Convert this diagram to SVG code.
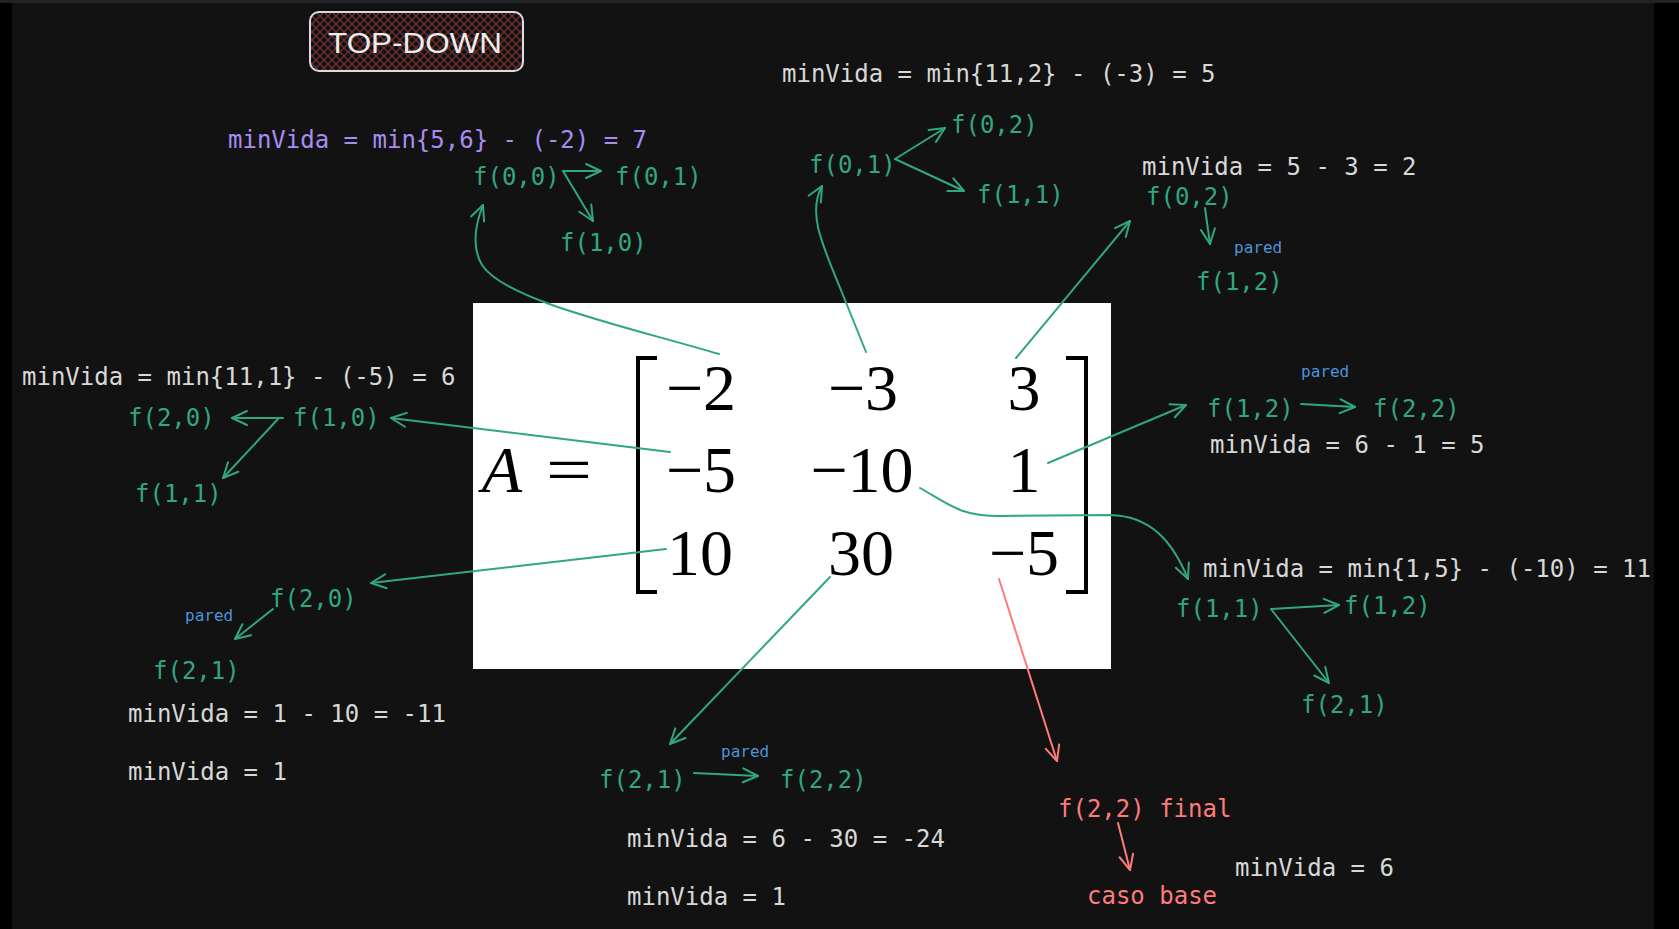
<svg xmlns="http://www.w3.org/2000/svg" width="1679" height="929" viewBox="0 0 1679 929">
<defs>
<style>
.t{font-family:"DejaVu Sans Mono","Liberation Mono",monospace;font-size:24px}
.g{fill:#31a77f}
.w{fill:#d8d8d8}
.p{fill:#a98cf2}
.r{fill:#ff7b7b}
.b{fill:#4d93dc;font-family:"DejaVu Sans Mono","Liberation Mono",monospace;font-size:16px}
.m{font-family:"Liberation Serif","DejaVu Serif",serif;font-size:66px;fill:#000;text-anchor:middle}
.cg{fill:none;stroke:#31a77f;stroke-width:2;stroke-linecap:round;marker-end:url(#ag)}
.cr{fill:none;stroke:#ff7b7b;stroke-width:2;stroke-linecap:round;marker-end:url(#ar)}
</style>
<marker id="ag" markerUnits="userSpaceOnUse" markerWidth="30" markerHeight="30" refX="0" refY="0" viewBox="-20 -15 30 30" orient="auto">
<path d="M-15,-7 L0,0 L-15,7" fill="none" stroke="#31a77f" stroke-width="2" stroke-linecap="round" stroke-linejoin="round"/>
</marker>
<marker id="ar" markerUnits="userSpaceOnUse" markerWidth="30" markerHeight="30" refX="0" refY="0" viewBox="-20 -15 30 30" orient="auto">
<path d="M-15,-7 L0,0 L-15,7" fill="none" stroke="#ff7b7b" stroke-width="2" stroke-linecap="round" stroke-linejoin="round"/>
</marker>
<pattern id="hatch" patternUnits="userSpaceOnUse" width="8" height="8">
<path d="M0,0 L8,8 M8,0 L0,8" stroke="#6e2f2f" stroke-width="1.3"/>
</pattern>
</defs>

<rect x="0" y="0" width="1679" height="929" fill="#000"/>
<rect x="12" y="3" width="1642" height="926" fill="#121212"/>
<rect x="0" y="0" width="1679" height="3" fill="#232323"/>

<g id="title">
<rect x="310" y="12" width="213" height="59" rx="9" fill="#121212"/>
<rect x="310" y="12" width="213" height="59" rx="9" fill="url(#hatch)" stroke="#dcdcdc" stroke-width="2"/>
<text x="328" y="53" font-family="'Liberation Sans',sans-serif" font-size="29" fill="#ececec" textLength="174" lengthAdjust="spacingAndGlyphs">TOP-DOWN</text>
</g>

<g id="matrix">
<rect x="473" y="303" width="638" height="366" fill="#fff"/>
<text x="502" y="492" class="m" font-style="italic">A</text>
<text x="546" y="492" class="m" style="text-anchor:start" textLength="46" lengthAdjust="spacingAndGlyphs">=</text>
<path d="M657,358 H638 V592 H657 M1066,358 H1086 V592 H1066" fill="none" stroke="#000" stroke-width="4"/>
<text x="701" y="410" class="m">−2</text>
<text x="863" y="410" class="m">−3</text>
<text x="1024" y="410" class="m">3</text>
<text x="701" y="492" class="m">−5</text>
<text x="862" y="492" class="m">−10</text>
<text x="1024" y="492" class="m">1</text>
<text x="700" y="575" class="m">10</text>
<text x="861" y="575" class="m">30</text>
<text x="1024" y="575" class="m">−5</text>
</g>

<g id="connectors">
<path class="cg" d="M719,354 C620,325 505,300 482,265 C472,248 474,228 483,205"/>
<path class="cg" d="M866,352 L845,300 C825,250 806,215 822,186"/>
<path class="cg" d="M1016,358 L1130,221"/>
<path class="cg" d="M670,452 L391,418"/>
<path class="cg" d="M1048,463 L1186,405" stroke-width="2.5"/>
<path class="cg" d="M920,488 C950,505 960,516 1000,516 L1110,515 C1150,516 1172,540 1188,579"/>
<path class="cg" d="M666,549 L371,583"/>
<path class="cg" d="M830,577 L670,744"/>
<path class="cr" d="M999,579 L1057,761"/>

<path class="cg" d="M563,171 L601,171"/>
<path class="cg" d="M563,171 L593,221"/>
<path class="cg" d="M895,159 L945,128"/>
<path class="cg" d="M895,159 L964,191"/>
<path class="cg" d="M1205,208 L1210,244"/>
<path class="cg" d="M283,418 L232,418"/>
<path class="cg" d="M278,419 L223,478"/>
<path class="cg" d="M1301,404 L1355,407"/>
<path class="cg" d="M1271,609 L1339,605"/>
<path class="cg" d="M1271,609 L1329,683"/>
<path class="cg" d="M273,609 L235,639"/>
<path class="cg" d="M694,773 L758,776"/>
<path class="cr" d="M1118,823 L1130,870"/>
</g>

<g id="n00">
<text x="228" y="148" class="t p">minVida = min{5,6} - (-2) = 7</text>
<text x="473" y="185" class="t g">f(0,0)</text>
<text x="615" y="185" class="t g">f(0,1)</text>
<text x="560" y="251" class="t g">f(1,0)</text>
</g>

<g id="n01">
<text x="782" y="82" class="t w">minVida = min{11,2} - (-3) = 5</text>
<text x="809" y="173" class="t g">f(0,1)</text>
<text x="951" y="133" class="t g">f(0,2)</text>
<text x="977" y="203" class="t g">f(1,1)</text>
</g>

<g id="n02">
<text x="1142" y="175" class="t w">minVida = 5 - 3 = 2</text>
<text x="1146" y="205" class="t g">f(0,2)</text>
<text x="1234" y="253" class="b">pared</text>
<text x="1196" y="290" class="t g">f(1,2)</text>
</g>

<g id="n10">
<text x="22" y="385" class="t w">minVida = min{11,1} - (-5) = 6</text>
<text x="128" y="426" class="t g">f(2,0)</text>
<text x="293" y="426" class="t g">f(1,0)</text>
<text x="135" y="502" class="t g">f(1,1)</text>
</g>

<g id="n12">
<text x="1301" y="377" class="b">pared</text>
<text x="1207" y="417" class="t g">f(1,2)</text>
<text x="1373" y="417" class="t g">f(2,2)</text>
<text x="1210" y="453" class="t w">minVida = 6 - 1 = 5</text>
</g>

<g id="n11">
<text x="1203" y="577" class="t w">minVida = min{1,5} - (-10) = 11</text>
<text x="1176" y="617" class="t g">f(1,1)</text>
<text x="1344" y="614" class="t g">f(1,2)</text>
<text x="1301" y="713" class="t g">f(2,1)</text>
</g>

<g id="n20">
<text x="270" y="607" class="t g">f(2,0)</text>
<text x="185" y="621" class="b">pared</text>
<text x="153" y="679" class="t g">f(2,1)</text>
<text x="128" y="722" class="t w">minVida = 1 - 10 = -11</text>
<text x="128" y="780" class="t w">minVida = 1</text>
</g>

<g id="n21">
<text x="721" y="757" class="b">pared</text>
<text x="599" y="788" class="t g">f(2,1)</text>
<text x="780" y="788" class="t g">f(2,2)</text>
<text x="627" y="847" class="t w">minVida = 6 - 30 = -24</text>
<text x="627" y="905" class="t w">minVida = 1</text>
</g>

<g id="n22">
<text x="1058" y="817" class="t r">f(2,2) final</text>
<text x="1087" y="904" class="t r">caso base</text>
<text x="1235" y="876" class="t w">minVida = 6</text>
</g>
</svg>
